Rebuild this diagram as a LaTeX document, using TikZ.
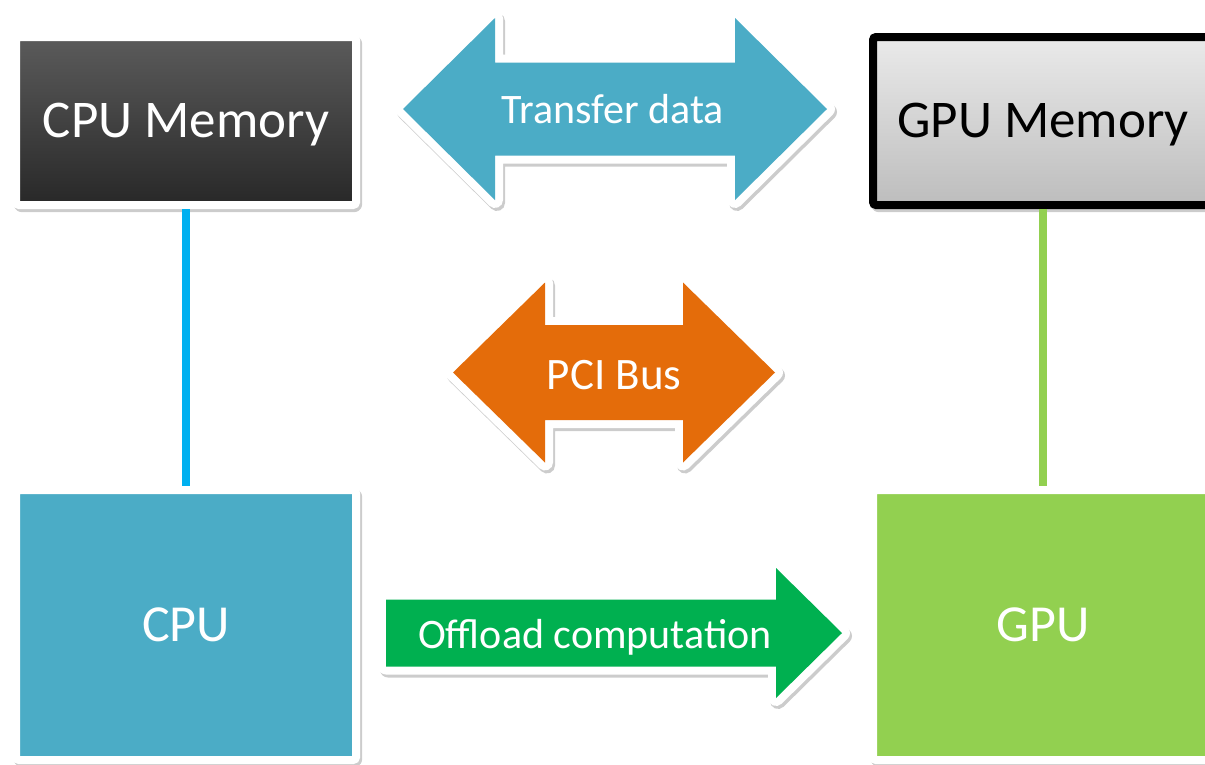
\documentclass[tikz,border=0pt]{standalone}
\usepackage{fontspec}
\setmainfont{Carlito}
\usetikzlibrary{shadows}

\definecolor{cpuBlue}{HTML}{4BACC6}
\definecolor{gpuGreen}{HTML}{92D050}
\definecolor{linkBlue}{HTML}{00B0F0}
\definecolor{busOrange}{HTML}{E46C0A}
\definecolor{offloadGreen}{HTML}{00B050}
\definecolor{darkTop}{HTML}{5B5B5B}
\definecolor{darkBottom}{HTML}{282828}
\definecolor{lightTop}{HTML}{EAEAEA}
\definecolor{lightBottom}{HTML}{BDBDBD}

% outline of a two-headed arrow: #1 options, centre (#2,#3), half length #4,
% head length #5, head half height #6, shaft half height #7
\newcommand\twoheadshape[7]{%
  \path[#1] (#2-#4,#3) -- (#2-#4+#5,#3-#6) -- (#2-#4+#5,#3-#7)
    -- (#2+#4-#5,#3-#7) -- (#2+#4-#5,#3-#6) -- (#2+#4,#3)
    -- (#2+#4-#5,#3+#6) -- (#2+#4-#5,#3+#7) -- (#2-#4+#5,#3+#7)
    -- (#2-#4+#5,#3+#6) -- cycle;}

% outline of the one-headed arrow pointing right
\newcommand\oneheadshape[1]{%
  \path[#1] (386,599.5) -- (776,599.5) -- (776,568) -- (842,633)
    -- (776,698) -- (776,666.5) -- (386,666.5) -- cycle;}

\begin{document}
\begin{tikzpicture}[x=1pt,y=-1pt,
  softshadow/.style={general shadow={shadow xshift=2pt, shadow yshift=-3pt,
      fill=black, draw=black, line width=#1, line join=round, opacity=0.2}},
  box/.style={rectangle, rounded corners=3pt, line width=8pt,
    minimum width=340pt, minimum height=168pt, inner sep=0pt,
    text height=33.5pt, text depth=0pt, font=\fontsize{53}{60}\selectfont,
    softshadow=8pt},
  bigbox/.style={box, minimum height=270pt, font=\fontsize{52}{60}\selectfont,
    text height=33pt},
  arrowrim/.style={fill=white, draw=white, line width=16pt, line join=round,
    softshadow=16pt},
  lbl/.style={font=\fontsize{42}{50}\selectfont, text=white, inner sep=0pt,
    anchor=base},
  link/.style={line width=8pt}]

\useasboundingbox (0,0) rectangle (1205,764);
\clip (0,0) rectangle (1205,764);

% memories and processors
\node[box, draw=white, top color=darkTop, bottom color=darkBottom,
  text=white] (cpumem) at (186,121) {CPU Memory};
\node[box, draw=black, top color=lightTop, bottom color=lightBottom,
  text=black] (gpumem) at (1043,121) {GPU Memory};
\node[bigbox, draw=white, fill=cpuBlue, text=white] (cpu) at (186,625) {CPU};
\node[bigbox, draw=white, fill=gpuGreen, text=white] (gpu) at (1043,625) {GPU};

% memory links
\draw[link, linkBlue] (cpumem) -- (cpu);
\draw[link, gpuGreen] (gpumem) -- (gpu);

% transfer arrow
\twoheadshape{arrowrim}{615}{109}{212}{92}{91}{46.5}
\twoheadshape{fill=cpuBlue}{615}{109}{212}{92}{91}{46.5}
\node[lbl] (xfer) at (613,123) {Transfer data};

% bus arrow
\twoheadshape{arrowrim}{614}{372.5}{161}{92}{90}{47.5}
\twoheadshape{fill=busOrange}{614}{372.5}{161}{92}{90}{47.5}
\node[lbl, font=\fontsize{45}{52}\selectfont] (bus) at (614,389) {PCI Bus};

% offload arrow
\oneheadshape{arrowrim}
\oneheadshape{fill=offloadGreen}
\node[lbl] (offload) at (595,648) {Offload computation};

\end{tikzpicture}
\end{document}
